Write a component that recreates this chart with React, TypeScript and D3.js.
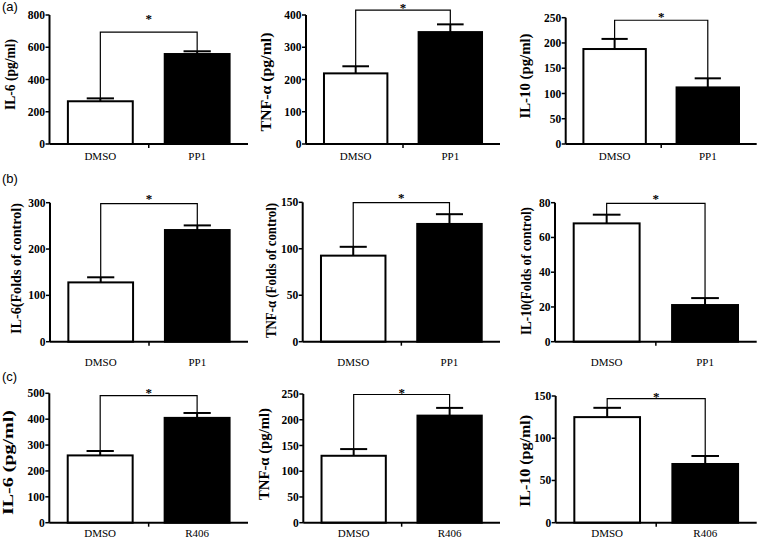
import React from "react";
import * as d3 from "d3";

// ---------- data ----------
const rowCategories = [
  ["DMSO", "PP1"],
  ["DMSO", "PP1"],
  ["DMSO", "R406"],
];
const panelLetters = ["(a)", "(b)", "(c)"];
const yLabels = [
  ["IL-6 (pg/ml)", "TNF-α (pg/ml)", "IL-10 (pg/ml)"],
  ["IL-6(Folds of control)", "TNF-α (Folds of control)", "IL-10(Folds of control)"],
  ["IL-6 (pg/ml)", "TNF-α (pg/ml)", "IL-10 (pg/ml)"],
];
const dmsoValues = [
  [265, 219, 188],
  [128, 92.6, 68.1],
  [260, 130, 125],
];
const treatedValues = [
  [558, 347, 112],
  [241, 126.7, 21.1],
  [405, 208, 69.5],
];
const dmsoErrors = [
  [18, 22, 20],
  [11, 9.5, 5],
  [17, 13, 11],
];
const treatedErrors = [
  [17, 24, 18],
  [10, 10.5, 4],
  [19, 15, 9.5],
];
const bracketLevels = [
  [694, 415, 245],
  [298, 149.6, 79.6],
  [491, 249, 147],
];
const yMaxes = [
  [800, 400, 250],
  [300, 150, 80],
  [500, 250, 150],
];
const tickSteps = [
  [200, 100, 50],
  [100, 50, 20],
  [100, 50, 50],
];

// ---------- layout ----------
const W = 760;
const H = 541;
const axisXs = [
  [49.5, 306, 565.7],
  [50, 302.7, 555],
  [49.3, 303.3, 555.7],
];
const xEnds = [248, 500, 756.7];
const rowY0 = [144, 341.7, 522.7];
const rowYTop = [
  [15, 15, 17.7],
  [202.7, 202.3, 202.7],
  [393.3, 394, 396],
];
const yLabelX = [
  [15, 270.5, 530],
  [20.5, 275.5, 530.5],
  [12.5, 268.5, 529.5],
];
const yLabelCY = [
  [74.5, 82, 76],
  [268.5, 270.5, 271],
  [462.5, 454, 461],
];
const yLabelLen = [
  [71, 99, 85],
  [131, 135, 128],
  [105, 92, 92],
];
const starLift = [
  [15.5, 5, 5.5],
  [7, 7, 7],
  [5.5, 4, 4.5],
];
const xLabelOffset = [16, 24, 14];
const letterY = [11, 183, 381];

const SERIF = "'Liberation Serif', 'Times New Roman', serif";
const SANS = "'Liberation Sans', Arial, sans-serif";

function Panel({ r, c }: { r: number; c: number }) {
  const ax = axisXs[r][c];
  const xe = xEnds[c];
  const y0 = rowY0[r];
  const yt = rowYTop[r][c];
  const cats = rowCategories[r];
  const x = d3.scaleBand<string>().domain(cats).range([ax, xe]).paddingInner(0.33).paddingOuter(0.19);
  const y = d3.scaleLinear().domain([0, yMaxes[r][c]]).range([y0, yt]);
  const ticks = d3.range(0, yMaxes[r][c] + 1e-9, tickSteps[r][c]);
  const vals = [dmsoValues[r][c], treatedValues[r][c]];
  const errs = [dmsoErrors[r][c], treatedErrors[r][c]];
  const bw = x.bandwidth();
  const capW = bw * 0.42;
  const centers = cats.map((k) => (x(k) as number) + bw / 2);
  const errTops = vals.map((v, i) => y(v + errs[i]));
  const by = y(bracketLevels[r][c]);
  const midX = ((x(cats[0]) as number) + bw + (x(cats[1]) as number)) / 2;
  return (
    <g>
      {cats.map((k, i) => (
        <rect
          key={k}
          x={x(k)}
          y={y(vals[i])}
          width={bw}
          height={y0 - y(vals[i])}
          fill={i === 0 ? "#fff" : "#000"}
          stroke="#000"
          strokeWidth={2}
        />
      ))}
      {cats.map((k, i) => (
        <g key={"e" + k} stroke="#000" strokeWidth={2}>
          <line x1={centers[i]} x2={centers[i]} y1={y(vals[i])} y2={errTops[i]} />
          <line x1={centers[i] - capW / 2} x2={centers[i] + capW / 2} y1={errTops[i]} y2={errTops[i]} />
        </g>
      ))}
      <path
        d={`M${centers[0]},${errTops[0]}V${by}H${centers[1]}V${errTops[1]}`}
        fill="none"
        stroke="#000"
        strokeWidth={1.2}
      />
      <text
        x={(centers[0] + centers[1]) / 2}
        y={by - starLift[r][c] + 6.5}
        textAnchor="middle"
        fontFamily={SERIF}
        fontWeight="bold"
        fontSize={13}
      >
        *
      </text>
      <line x1={ax} x2={ax} y1={yt} y2={y0} stroke="#000" strokeWidth={2} />
      <line x1={ax} x2={xe} y1={y0} y2={y0} stroke="#000" strokeWidth={2} />
      <line x1={midX} x2={midX} y1={y0} y2={y0 + 4} stroke="#000" strokeWidth={1.5} />
      {ticks.map((t) => (
        <g key={t}>
          <line x1={ax - 4} x2={ax} y1={y(t)} y2={y(t)} stroke="#000" strokeWidth={1.5} />
          <text
            x={ax - 4.5}
            y={y(t)}
            dy="0.35em"
            textAnchor="end"
            fontFamily={SERIF}
            fontWeight="bold"
            fontSize={11.5}
          >
            {t}
          </text>
        </g>
      ))}
      {cats.map((k, i) => (
        <text
          key={"l" + k}
          x={centers[i]}
          y={y0 + xLabelOffset[r]}
          textAnchor="middle"
          fontFamily={SERIF}
          fontSize={11}
        >
          {k}
        </text>
      ))}
      <text
        transform={`translate(${yLabelX[r][c]},${yLabelCY[r][c]}) rotate(-90)`}
        textAnchor="middle"
        fontFamily={SERIF}
        fontWeight="bold"
        fontSize={15}
        textLength={yLabelLen[r][c]}
        lengthAdjust="spacingAndGlyphs"
      >
        {yLabels[r][c]}
      </text>
    </g>
  );
}

export default function App() {
  return (
    <svg
      width={W}
      height={H}
      viewBox={`0 0 ${W} ${H}`}
      style={{ position: "absolute", left: 0, top: 0, background: "#fff" }}
    >
      <rect width={W} height={H} fill="#fff" />
      {panelLetters.map((p, r) => (
        <text key={p} x={2} y={letterY[r]} fontFamily={SANS} fontSize={13}>
          {p}
        </text>
      ))}
      {[0, 1, 2].map((r) => [0, 1, 2].map((c) => <Panel key={`${r}-${c}`} r={r} c={c} />))}
    </svg>
  );
}
